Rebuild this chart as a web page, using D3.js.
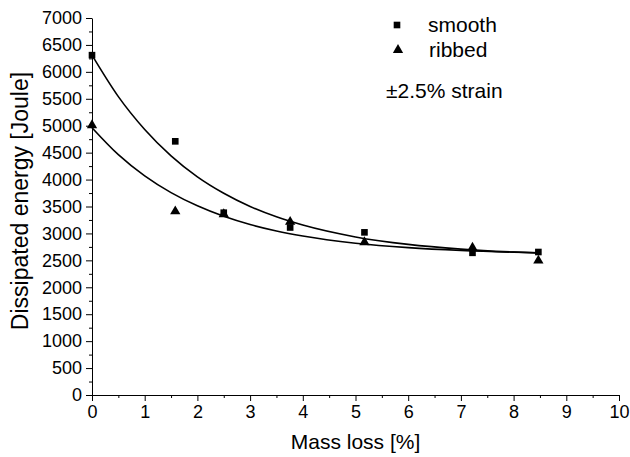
<!DOCTYPE html>
<meta charset="utf-8">
<script src="https://cdn.jsdelivr.net/npm/d3@7"></script>
<style>
  body { margin: 0; background: #fff; }
  text { font-family: "Liberation Sans", Arial, sans-serif; fill: #000; }
</style>
<div id="chart"></div>

<script>
// measured points
const massLoss   = [0, 1.58, 2.5, 3.76, 5.17, 7.22, 8.47];
const smoothVals = [6310, 4710, 3385, 3110, 3020, 2640, 2655];
const ribbedVals = [5010, 3410, 3355, 3215, 2835, 2735, 2495];

// fitted curves
const fitX       = [0, 0.5, 1, 1.5, 2, 2.5, 3, 3.5, 4, 5, 6, 7, 8, 8.5];
const smoothFit  = [6310, 5540, 4930, 4440, 4050, 3745, 3500, 3308, 3155, 2935, 2796, 2709, 2654, 2635];
const ribbedFit  = [4963, 4462, 4068, 3757, 3512, 3318, 3166, 3046, 2952, 2819, 2736, 2684, 2652, 2641];

const xTicks = d3.range(0, 11, 1);
const yTicks = d3.range(0, 7001, 500);

const W = 630, H = 457;
const margin = {top: 18, right: 11, bottom: 62, left: 92};

const svg = d3.select("#chart").append("svg")
    .attr("width", W)
    .attr("height", H);

const x = d3.scaleLinear().domain([0, 10]).range([margin.left, W - margin.right]);
const y = d3.scaleLinear().domain([0, 7000]).range([H - margin.bottom, margin.top]);

// minor ticks first
svg.append("g")
    .attr("transform", `translate(0,${y(0)})`)
    .call(d3.axisBottom(x).tickValues(d3.range(0.5, 10, 1)).tickSize(3).tickFormat(""))
    .call(g => g.select(".domain").remove());
svg.append("g")
    .attr("transform", `translate(${x(0)},0)`)
    .call(d3.axisLeft(y).tickValues(d3.range(250, 7000, 500)).tickSize(3).tickFormat(""))
    .call(g => g.select(".domain").remove());

// major axes
const xAxis = svg.append("g")
    .attr("transform", `translate(0,${y(0)})`)
    .call(d3.axisBottom(x).tickValues(xTicks).tickSize(6).tickSizeOuter(0).tickPadding(4).tickFormat(d3.format("d")));
xAxis.selectAll("text").attr("font-size", 18);

const yAxis = svg.append("g")
    .attr("transform", `translate(${x(0)},0)`)
    .call(d3.axisLeft(y).tickValues(yTicks).tickSize(6).tickSizeOuter(0).tickPadding(4).tickFormat(d3.format("d")));
yAxis.selectAll("text").attr("font-size", 18);

svg.selectAll(".tick line, .domain").attr("stroke", "#000");

// axis titles
svg.append("text")
    .attr("x", (x(0) + x(10)) / 2)
    .attr("y", 449)
    .attr("text-anchor", "middle")
    .attr("font-size", 21)
    .text("Mass loss [%]");

svg.append("text")
    .attr("transform", "translate(28,201) rotate(-90)")
    .attr("text-anchor", "middle")
    .attr("font-size", 23)
    .text("Dissipated energy [Joule]");

// fit lines
const line = d3.line()
    .x(d => x(d[0]))
    .y(d => y(d[1]))
    .curve(d3.curveMonotoneX);

[smoothFit, ribbedFit].forEach(vals => {
  svg.append("path")
      .datum(fitX.map((v, i) => [v, vals[i]]))
      .attr("d", line)
      .attr("fill", "none")
      .attr("stroke", "#000")
      .attr("stroke-width", 1.6);
});

// markers
const sq = d3.symbol().type(d3.symbolSquare).size(44);
const tri = d3.symbol().type(d3.symbolTriangle).size(46);

svg.append("g").selectAll("path")
  .data(massLoss.map((v, i) => [v, smoothVals[i]]))
  .join("path")
    .attr("d", sq)
    .attr("transform", d => `translate(${x(d[0])},${y(d[1])})`)
    .attr("fill", "#000");

svg.append("g").selectAll("path")
  .data(massLoss.map((v, i) => [v, ribbedVals[i]]))
  .join("path")
    .attr("d", tri)
    .attr("transform", d => `translate(${x(d[0])},${y(d[1])})`)
    .attr("fill", "#000");

// legend
const legend = svg.append("g");
legend.append("path").attr("d", sq).attr("transform", "translate(397,25)").attr("fill", "#000");
legend.append("path").attr("d", tri).attr("transform", "translate(398,50)").attr("fill", "#000");
legend.append("text").attr("x", 428).attr("y", 32).attr("font-size", 21).text("smooth");
legend.append("text").attr("x", 429).attr("y", 57).attr("font-size", 21).text("ribbed");
legend.append("text").attr("x", 386).attr("y", 98).attr("font-size", 21).text("±2.5% strain");
</script>
